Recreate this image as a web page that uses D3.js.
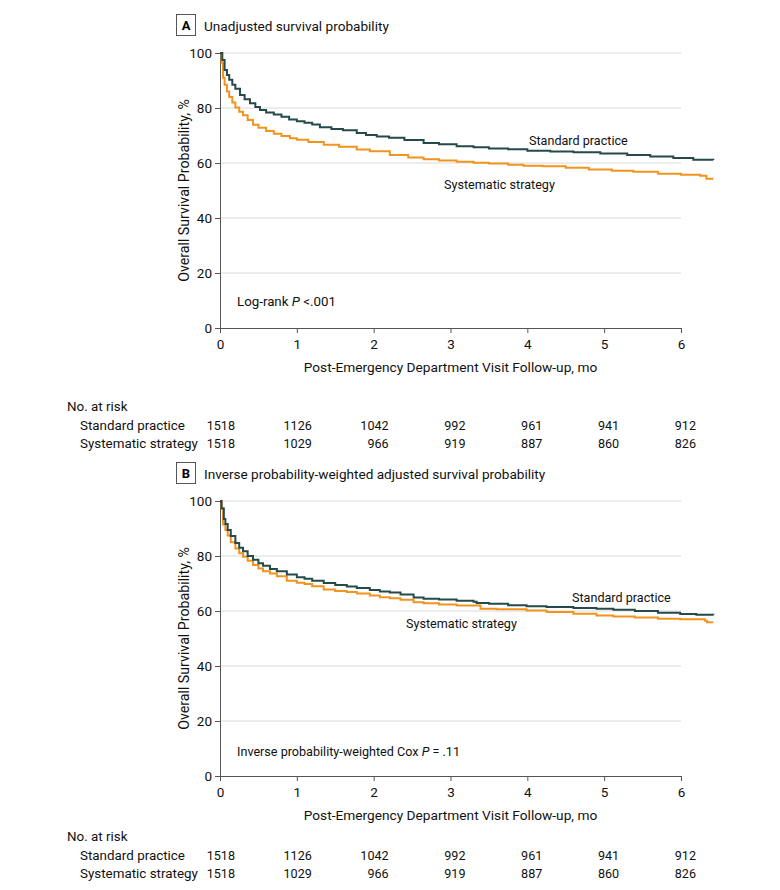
<!DOCTYPE html>
<html>
<head>
<meta charset="utf-8">
<script src="https://cdn.jsdelivr.net/npm/d3@7"></script>
<style>
  body { margin: 0; background: #fff; }
  svg { font-family: Roboto, "Noto Sans", sans-serif; }
</style>
</head>
<body>
<div id="chart"></div>
<script>
// survival curves, time in months, value in %
let timesStdA = [0, 0.03, 0.06, 0.09, 0.12, 0.16, 0.2, 0.26, 0.32, 0.39, 0.46, 0.52, 0.6, 0.7, 0.8, 0.9, 1.0, 1.1, 1.2, 1.3, 1.45, 1.6, 1.78, 1.9, 2.04, 2.2, 2.4, 2.65, 2.85, 3.08, 3.3, 3.5, 3.75, 4.0, 4.3, 4.6, 4.95, 5.3, 5.6, 5.9, 6.16, 6.42];
let valuesStdA = [100, 97.5, 93.8, 92, 90.3, 88.5, 87, 84.7, 83.2, 81.7, 80.4, 79.3, 78.4, 77.6, 76.8, 75.8, 75.2, 74.6, 74.0, 73.0, 72.4, 71.9, 70.9, 70.2, 69.6, 69.2, 68.4, 67.3, 66.8, 66.1, 65.7, 65.3, 65.0, 64.5, 64.2, 63.9, 63.5, 62.9, 62.4, 61.8, 61.2, 61.1];
let timesSysA = [0, 0.02, 0.04, 0.06, 0.09, 0.12, 0.16, 0.2, 0.25, 0.3, 0.36, 0.43, 0.5, 0.6, 0.7, 0.8, 0.91, 1.0, 1.15, 1.35, 1.55, 1.78, 1.95, 2.21, 2.45, 2.65, 2.85, 3.08, 3.3, 3.5, 3.75, 3.95, 4.2, 4.5, 4.8, 5.1, 5.38, 5.7, 6.0, 6.25, 6.33, 6.42];
let valuesSysA = [100, 96.5, 91, 88.5, 86, 84, 82, 80.2, 78.6, 77.4, 75.6, 73.9, 72.8, 71.6, 70.6, 69.8, 69.0, 68.5, 67.6, 66.6, 65.9, 64.9, 64.3, 62.9, 62.0, 61.4, 60.9, 60.5, 60.1, 59.8, 59.4, 59.0, 58.8, 58.3, 57.6, 57.2, 56.8, 56.1, 55.7, 55.4, 54.3, 54.3];

let timesStdB = [0, 0.02, 0.05, 0.07, 0.1, 0.14, 0.2, 0.25, 0.3, 0.36, 0.43, 0.5, 0.56, 0.65, 0.74, 0.87, 1.0, 1.1, 1.2, 1.35, 1.5, 1.65, 1.78, 1.95, 2.08, 2.21, 2.35, 2.52, 2.65, 2.85, 3.08, 3.3, 3.34, 3.5, 3.75, 3.99, 4.25, 4.6, 4.9, 5.12, 5.4, 5.7, 5.99, 6.2, 6.42];
let valuesStdB = [100, 97.3, 93.5, 91.6, 89.5, 87.3, 84.7, 83.0, 81.7, 80.0, 78.6, 77.4, 76.5, 75.3, 74.5, 73.3, 72.3, 71.7, 71.0, 70.2, 69.5, 68.9, 68.4, 67.6, 67.1, 66.7, 66.0, 64.9, 64.5, 64.2, 63.7, 63.4, 62.9, 62.6, 62.1, 61.7, 61.5, 61.1, 60.8, 60.5, 60.0, 59.4, 58.9, 58.6, 58.5];
let timesSysB = [0, 0.02, 0.04, 0.07, 0.1, 0.14, 0.2, 0.25, 0.3, 0.36, 0.43, 0.5, 0.56, 0.65, 0.74, 0.87, 1.0, 1.1, 1.2, 1.35, 1.5, 1.65, 1.78, 1.95, 2.08, 2.21, 2.35, 2.52, 2.65, 2.85, 3.08, 3.39, 3.6, 3.99, 4.25, 4.6, 4.9, 5.12, 5.4, 5.7, 5.99, 6.31, 6.34, 6.42];
let valuesSysB = [100, 97.5, 91.5, 89.5, 87.5, 85, 82.7, 81.0, 79.7, 78.3, 76.7, 75.5, 74.5, 73.6, 72.6, 71.0, 70.3, 69.8, 69.0, 67.8, 67.3, 66.9, 66.4, 65.6, 65.0, 64.6, 64.1, 63.2, 62.8, 62.4, 62.0, 60.8, 60.6, 60.2, 59.6, 59.0, 58.4, 58.0, 57.6, 57.2, 57.0, 56.5, 55.9, 55.9];

// number at risk (same for both panels)
let riskTimes = [0, 1, 2, 3, 4, 5, 6];
let riskStd = [1518, 1126, 1042, 992, 961, 941, 912];
let riskSys = [1518, 1029, 966, 919, 887, 860, 826];

let xTicks = [0, 1, 2, 3, 4, 5, 6];
let yTicks = [0, 20, 40, 60, 80, 100];

let colorStd = "#26494a";
let colorSys = "#f2931f";

let svg = d3.select("#chart")
    .append("svg")
    .attr("width", 780)
    .attr("height", 890);

let x = d3.scaleLinear().domain([0, 6]).range([220, 681]);

function addText(g, px, py, size, str) {
    return g.append("text")
        .attr("x", px).attr("y", py)
        .style("font-size", size + "px").style("fill", "#111")
        .text(str);
}

function drawPanel(top, letter, title, stdT, stdV, sysT, sysV, note, labels, tableY) {
    const g = svg.append("g").attr("transform", `translate(0,${top})`);
    const y = d3.scaleLinear().domain([0, 100]).range([328, 53]);

    // panel letter box + title
    g.append("rect")
        .attr("x", 176.5).attr("y", 14.5).attr("width", 19).attr("height", 21)
        .style("fill", "none").style("stroke", "#555").style("stroke-width", 1);
    g.append("text")
        .attr("x", 186).attr("y", 30)
        .style("text-anchor", "middle")
        .style("font-weight", "bold").style("font-size", "13px")
        .text(letter);
    addText(g, 204, 30.5, 13.6, title);

    // grid
    g.selectAll(".grid")
        .data(yTicks.filter(d => d > 0))
        .join("line")
        .attr("x1", x(0)).attr("x2", x(6))
        .attr("y1", d => y(d)).attr("y2", d => y(d))
        .style("stroke", "#d9d9d9").style("stroke-width", 1);

    // axes
    const yAxis = g.append("g")
        .attr("transform", `translate(${x(0)},0)`)
        .call(d3.axisLeft(y).tickValues(yTicks).tickSize(5).tickPadding(3));
    const xAxis = g.append("g")
        .attr("transform", `translate(0,${y(0)})`)
        .call(d3.axisBottom(x).tickValues(xTicks).tickFormat(d3.format("d")).tickSize(5).tickPadding(6));
    [yAxis, xAxis].forEach(a => {
        a.select(".domain").style("stroke", "#555");
        a.selectAll(".tick line").style("stroke", "#555");
        a.selectAll(".tick text").style("font-size", "13.5px").style("fill", "#111")
            .style("font-family", "Roboto, sans-serif");
    });

    g.append("text")
        .attr("transform", `translate(189,${y(50)}) rotate(-90)`)
        .style("text-anchor", "middle").style("font-size", "14.2px").style("fill", "#111")
        .text("Overall Survival Probability, %");
    addText(g, x(3), 372, 13.7, "Post-Emergency Department Visit Follow-up, mo")
        .style("text-anchor", "middle");

    // curves
    const line = d3.line()
        .x(d => x(d[0]))
        .y(d => y(d[1]))
        .curve(d3.curveStepAfter);
    g.append("path")
        .datum(d3.zip(sysT, sysV))
        .attr("d", line)
        .style("fill", "none").style("stroke", colorSys).style("stroke-width", 2);
    g.append("path")
        .datum(d3.zip(stdT, stdV))
        .attr("d", line)
        .style("fill", "none").style("stroke", colorStd).style("stroke-width", 2);

    // curve labels
    addText(g, labels[0][0], labels[0][1], 12.6, "Standard practice");
    addText(g, labels[1][0], labels[1][1], 12.6, "Systematic strategy");

    // test note
    const n = addText(g, 237, y(0) - note[3], note[2], "");
    n.append("tspan").text(note[0]);
    n.append("tspan").style("font-style", "italic").text("P");
    n.append("tspan").text(note[1]);

    // number at risk table
    addText(g, 67, tableY[0], 13.4, "No. at risk");
    addText(g, 80, tableY[1], 13.4, "Standard practice");
    addText(g, 80, tableY[2], 13.4, "Systematic strategy");
    g.selectAll(".rstd")
        .data(riskStd)
        .join("text")
        .attr("x", (d, i) => x(riskTimes[i]) + 15).attr("y", tableY[1])
        .style("text-anchor", "end").style("font-size", "12.6px").style("fill", "#111")
        .text(d => d);
    g.selectAll(".rsys")
        .data(riskSys)
        .join("text")
        .attr("x", (d, i) => x(riskTimes[i]) + 15).attr("y", tableY[2])
        .style("text-anchor", "end").style("font-size", "12.6px").style("fill", "#111")
        .text(d => d);
}

drawPanel(0, "A", "Unadjusted survival probability",
    timesStdA, valuesStdA, timesSysA, valuesSysA,
    ["Log-rank ", " <.001", 13.3, 22], [[529, 145], [444, 189]], [411, 430, 448]);
drawPanel(448, "B", "Inverse probability-weighted adjusted survival probability",
    timesStdB, valuesStdB, timesSysB, valuesSysB,
    ["Inverse probability-weighted Cox ", " = .11", 12.6, 20], [[572, 154], [406, 180]], [393, 412, 430]);
</script>
</body>
</html>
